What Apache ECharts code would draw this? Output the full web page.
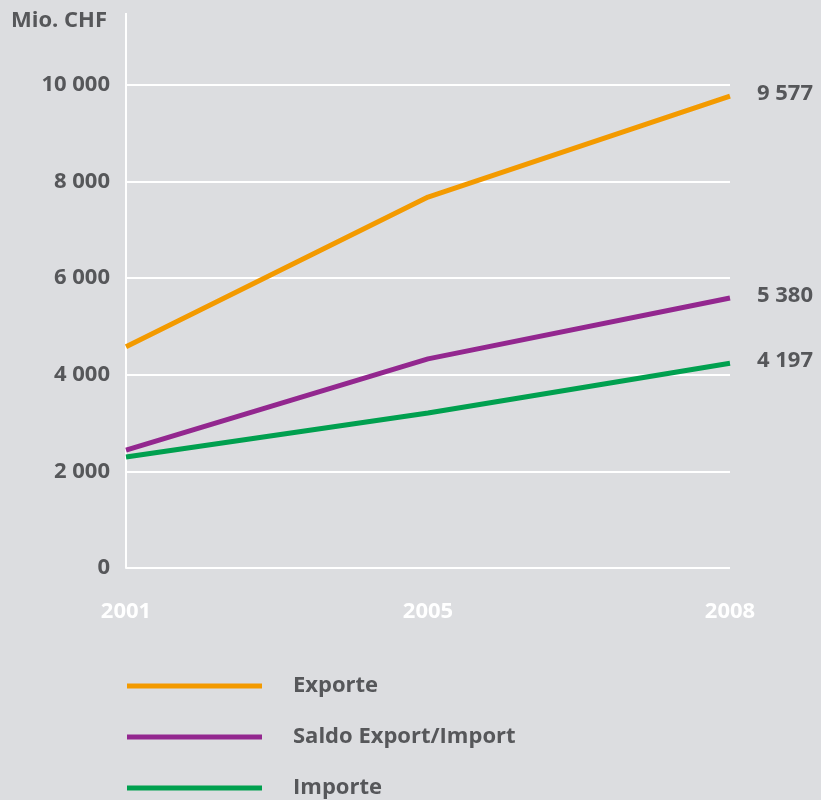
<!DOCTYPE html>
<html>
<head>
<meta charset="utf-8">
<script src="https://cdn.jsdelivr.net/npm/echarts@6/dist/echarts.min.js"></script>
<style>
  html, body { margin: 0; padding: 0; background: #dcdde0; }
  #chart { width: 821px; height: 800px; }
</style>
</head>
<body>
<div id="chart"></div>
<script>
// data
const years = ['2001', '2005', '2008'];
const exporte = [4580, 7680, 9770];
const saldo = [2440, 4330, 5590];
const importe = [2300, 3210, 4240];
// values printed at the line ends
const endValues = [9577, 5380, 4197];
const yTicks = [0, 2000, 4000, 6000, 8000, 10000];

const TEXT = '#56575a';
const FONT = 'Open Sans';
const SIZE = 22;

const fmt = v => String(v).replace(/\B(?=(\d{3})+(?!\d))/g, ' ');

const chart = echarts.init(document.getElementById('chart'), null, { renderer: 'canvas' });

function lineSeries(name, data, color, idx) {
  return {
    name: name,
    type: 'line',
    data: data,
    symbol: 'none',
    lineStyle: { color: color, width: 5 },
    itemStyle: { color: color },
    endLabel: {
      show: true,
      distance: 27,
      offset: [0, -2],
      formatter: () => fmt(endValues[idx]),
      color: TEXT,
      fontFamily: FONT,
      fontWeight: 'bold',
      fontSize: SIZE
    }
  };
}

chart.setOption({
  backgroundColor: '#dcdde0',
  animation: false,
  title: {
    text: 'Mio. CHF',
    left: 6,
    top: 5,
    textStyle: { color: TEXT, fontFamily: FONT, fontWeight: 'bold', fontSize: SIZE }
  },
  grid: { left: 126, right: 91, top: 85, height: 483 },
  legend: {
    orient: 'vertical',
    left: 122,
    top: 670,
    height: 200,
    icon: 'rect',
    itemWidth: 135,
    itemHeight: 5,
    itemGap: 29,
    data: ['Exporte', 'Saldo Export/Import', 'Importe'],
    textStyle: {
      color: TEXT, fontFamily: FONT, fontWeight: 'bold', fontSize: SIZE,
      padding: [0, 0, 0, 26]
    }
  },
  graphic: [
    { type: 'line', shape: { x1: 126, y1: 13, x2: 126, y2: 86 },
      style: { stroke: '#ffffff', lineWidth: 2 } }
  ],
  xAxis: {
    type: 'category',
    data: years,
    boundaryGap: false,
    axisLine: { show: false },
    axisTick: { show: false },
    axisLabel: {
      color: '#ffffff', fontFamily: FONT, fontWeight: 'bold', fontSize: SIZE, margin: 33
    }
  },
  yAxis: {
    type: 'value',
    min: yTicks[0],
    max: yTicks[yTicks.length - 1],
    interval: 2000,
    axisLine: { show: true, lineStyle: { color: '#ffffff', width: 2 } },
    axisTick: { show: false },
    splitLine: { lineStyle: { color: '#ffffff', width: 2 } },
    axisLabel: {
      color: TEXT, fontFamily: FONT, fontWeight: 'bold', fontSize: SIZE, margin: 16,
      formatter: v => fmt(v)
    }
  },
  series: [
    lineSeries('Exporte', exporte, '#f39a00', 0),
    lineSeries('Saldo Export/Import', saldo, '#93278f', 1),
    lineSeries('Importe', importe, '#00a04f', 2)
  ]
});
</script>
</body>
</html>
